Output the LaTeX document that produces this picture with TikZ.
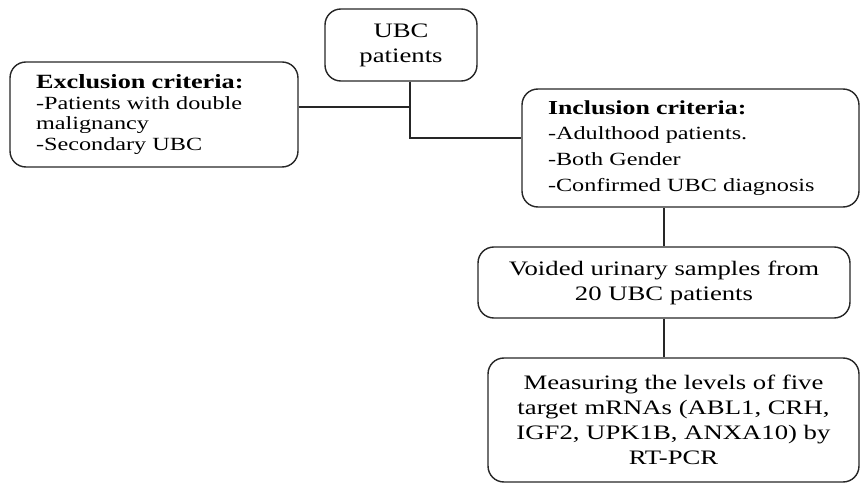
\documentclass[tikz,border=0pt]{standalone}
\usepackage{fontspec}
\setmainfont{Liberation Serif}[FakeStretch=1.3]
\usepackage{tikz}
\definecolor{ink}{HTML}{262626}

\begin{document}
\begin{tikzpicture}[x=0.02cm,y=-0.02cm,
  box/.style={draw=ink,line width=0.8pt,rounded corners=9pt,align=center,inner sep=0pt,font=\fontsize{11.7}{14.2}\selectfont},
  crit/.style={box,align=left,inner xsep=0.52cm,text width=#1},
  conn/.style={draw=ink,line width=0.8pt}]
  \useasboundingbox (0,0) rectangle (860,483);
  \node[box,minimum width=3.04cm,minimum height=1.44cm] (u) at (401,45) {UBC\\patients};
  \node[crit=4.72cm,minimum height=2.1cm,font=\fontsize{10.6}{11.7}\selectfont] (ex) at (154,114.5)
    {{\bfseries\fontsize{11.5}{11.7}\selectfont Exclusion criteria:}\\-Patients with double\\malignancy\\-Secondary UBC};
  \node[crit=5.7cm,minimum height=2.36cm,font=\fontsize{10.6}{14.7}\selectfont] (inc) at (690.5,148)
    {{\bfseries\fontsize{11.3}{14.7}\selectfont Inclusion criteria:}\\-Adulthood patients.\\-Both Gender\\-Confirmed UBC diagnosis};
  \node[box,minimum width=7.44cm,minimum height=1.42cm] (v) at (664,282.5) {Voided urinary samples from\\20 UBC patients};
  \node[box,minimum width=7.42cm,minimum height=2.48cm] (m) at (673.5,420)
    {Measuring the levels of five\\target mRNAs (ABL1, CRH,\\IGF2, UPK1B, ANXA10) by\\RT-PCR};
  \coordinate (j1) at (410,107);
  \coordinate (j2) at (410,138);
  \draw[conn] (u.south -| j1) -- (j2) -- (j2 -| inc.west);
  \draw[conn] (ex.east |- j1) -- (j1);
  \draw[conn] (v.north) -- (v.north |- inc.south);
  \draw[conn] (v.south) -- (v.south |- m.north);
\end{tikzpicture}
\end{document}
